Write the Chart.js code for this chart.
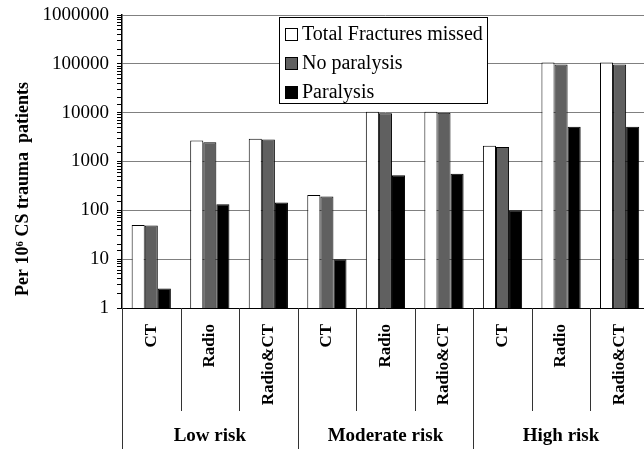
<!DOCTYPE html>
<html>
<head>
<meta charset="utf-8">
<script src="https://cdn.jsdelivr.net/npm/chart.js@4/dist/chart.umd.min.js"></script>
<style>
html,body{margin:0;padding:0;overflow:hidden;background:#fff;}
#wrap{width:656px;height:449px;}
</style>
</head>
<body>
<div id="wrap"><canvas id="c" width="656" height="449"></canvas></div>
<script>
const categories = ["CT","Radio","Radio&CT","CT","Radio","Radio&CT","CT","Radio","Radio&CT"];
const groups = ["Low risk","Moderate risk","High risk"];
const seriesNames = ["Total Fractures missed","No paralysis","Paralysis"];
const totalMissed = [50, 2700, 2930, 206, 10500, 10500, 2100, 106000, 106000];
const noParalysis = [49, 2490, 2830, 191, 9700, 10000, 1970, 97000, 97000];
const paralysis   = [2.5, 133, 144, 10, 524, 559, 100, 5160, 5160];
const yTickValues = [1, 10, 100, 1000, 10000, 100000, 1000000];
const yTitle = 'Per 10\u2076 CS trauma  patients';

const SERIF = '"Liberation Serif","Times New Roman",serif';
const colors = ['#ffffff','#606060','#000000'];

const isMajor = v => yTickValues.includes(v);

const groupPlugin = {
  id: 'groups',
  afterDraw(chart) {
    const ctx = chart.ctx, x = chart.scales.x, area = chart.chartArea;
    const half = (x.getPixelForValue(1) - x.getPixelForValue(0)) / 2;
    ctx.save();
    ctx.strokeStyle = '#333';
    ctx.lineWidth = 1;
    for (let i = 0; i <= categories.length; i++) {
      const px = Math.round(x.getPixelForValue(i) - half) + 0.5;
      const isGroup = i % 3 === 0;
      ctx.beginPath();
      ctx.moveTo(px, area.bottom);
      ctx.lineTo(px, isGroup ? 449 : 411);
      ctx.stroke();
    }
    ctx.fillStyle = '#000';
    ctx.font = 'bold 19px ' + SERIF;
    ctx.textAlign = 'center';
    ctx.textBaseline = 'middle';
    groups.forEach((g, gi) => {
      const cx = (x.getPixelForValue(gi*3) + x.getPixelForValue(gi*3+2)) / 2;
      ctx.fillText(g, cx, 436);
    });
    // y-axis title
    ctx.translate(23, 189);
    ctx.rotate(-Math.PI / 2);
    ctx.font = 'bold 18px ' + SERIF;
    ctx.fillText(yTitle, 0, 0);
    ctx.restore();
  }
};

const legendPlugin = {
  id: 'boxLegend',
  afterDatasetsDraw(chart) {
    const ctx = chart.ctx;
    const bx = 279.5, by = 17.5, bw = 208, bh = 86;
    ctx.save();
    ctx.fillStyle = '#fff';
    ctx.fillRect(bx, by, bw, bh);
    ctx.strokeStyle = '#000';
    ctx.lineWidth = 1;
    ctx.strokeRect(bx, by, bw, bh);
    ctx.font = '20px ' + SERIF;
    ctx.textBaseline = 'middle';
    ctx.textAlign = 'left';
    chart.data.datasets.forEach((ds, i) => {
      const cy = 33.5 + i * 29.2;
      ctx.fillStyle = ds.backgroundColor;
      ctx.fillRect(285.5, Math.round(cy - 6) + 0.5, 12, 12);
      ctx.strokeStyle = '#000';
      ctx.strokeRect(285.5, Math.round(cy - 6) + 0.5, 12, 12);
      ctx.fillStyle = '#000';
      ctx.fillText(ds.label, 302, cy + 1);
    });
    ctx.restore();
  }
};

new Chart(document.getElementById('c'), {
  type: 'bar',
  data: {
    labels: categories,
    datasets: [
      {label: seriesNames[0], data: totalMissed, backgroundColor: colors[0]},
      {label: seriesNames[1], data: noParalysis, backgroundColor: colors[1]},
      {label: seriesNames[2], data: paralysis, backgroundColor: colors[2]}
    ].map(d => Object.assign(d, {borderColor: '#000', borderWidth: 1, categoryPercentage: 0.67, barPercentage: 1.0}))
  },
  options: {
    responsive: false,
    animation: false,
    layout: {padding: {top: 15, left: 0, right: 0, bottom: 0}},
    plugins: {legend: {display: false}, tooltip: {enabled: false}},
    scales: {
      x: {
        grid: {display: false, drawTicks: false},
        border: {display: true, color: '#000', width: 1},
        ticks: {
          autoSkip: false, minRotation: 90, maxRotation: 90, padding: 16,
          color: '#000', font: {family: SERIF, size: 17, weight: 'bold'}
        },
        afterFit(s) { s.height = 141; }
      },
      y: {
        type: 'logarithmic',
        min: 1, max: 1000000,
        grid: {
          color: c => (c.tick && isMajor(c.tick.value)) ? '#808080' : 'rgba(0,0,0,0)',
          tickColor: '#000', tickLength: 5, lineWidth: 1
        },
        border: {display: true, color: '#000', width: 1.5},
        ticks: {
          autoSkip: false, padding: 8, color: '#000',
          font: {family: SERIF, size: 19},
          callback: v => isMajor(v) ? String(v) : ''
        },
        title: {display: false},
        afterFit(s) { s.width = 122; s.paddingTop = 0; s.paddingBottom = 0; }
      }
    }
  },
  plugins: [groupPlugin, legendPlugin]
});
</script>
</body>
</html>
